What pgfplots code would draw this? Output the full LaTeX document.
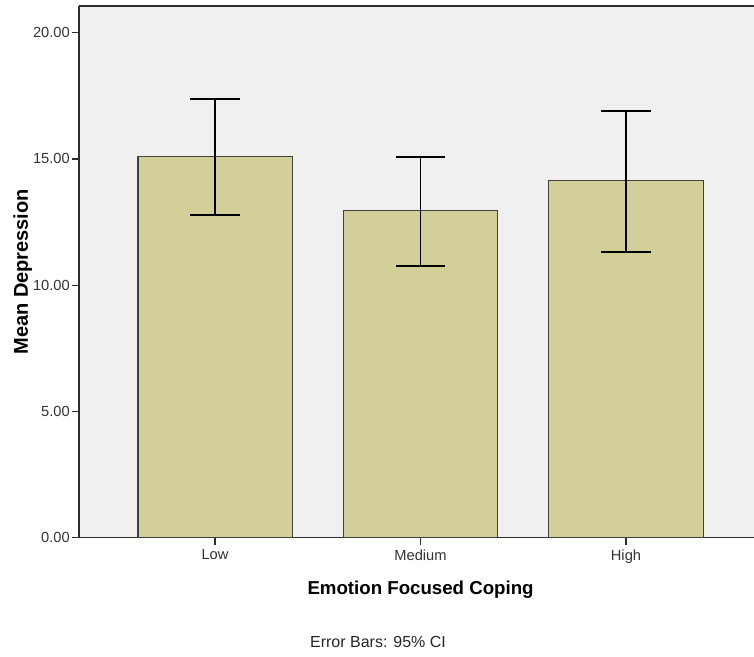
\documentclass[border=0pt]{standalone}
\usepackage{pgfplots}
\pgfplotsset{compat=1.18}
\usepackage{pgfplotstable}
\usepackage{fontspec}
\setmainfont{Liberation Sans}
\definecolor{barfill}{RGB}{211,207,153}
\definecolor{bgc}{RGB}{240,240,240}
\definecolor{framec}{RGB}{45,45,45}
\pgfplotstableread{
x y ep em
0 15.08 2.28 2.29
1 12.95 2.14 2.18
2 14.13 2.78 2.83
}\datatable
\begin{document}
\begin{tikzpicture}
\begin{axis}[
  at={(59.25pt,89.5pt)}, anchor=south west,
  scale only axis, width=506.25pt, height=398.8pt,
  xmin=-0.662, xmax=2.623, ymin=0, ymax=21.06,
  axis lines*=left,
  axis line style={framec, line width=1pt},
  axis background/.style={fill=bgc},
  xtick={0,1,2}, xticklabels={Low,Medium,High},
  ytick={0,5,10,15,20},
  /pgf/number format/assume math mode=true,
  tick align=outside, major tick length=5.25pt,
  tick style={framec, line width=1pt},
  ticklabel style={font=\fontsize{11}{13}\selectfont, text=black!80},
  yticklabel style={inner sep=1.5pt, /pgf/number format/.cd, fixed, fixed zerofill, precision=2},
  xlabel={Emotion Focused Coping},
  ylabel={Mean Depression},
  label style={font=\bfseries\fontsize{14}{16}\selectfont},
  x label style={at={(rel axis cs:0.506,0)}, anchor=base, yshift=-43pt},
  y label style={at={(rel axis cs:-0.0756,0.5)}, anchor=base, font=\bfseries\fontsize{15}{17}\selectfont},
  clip=false,
]
\addplot[ybar, bar width=0.75, fill=barfill, draw=black!75, line width=0.8pt,
  error bars/.cd, y dir=both, y explicit,
  error bar style={black, line width=1.1pt},
  error mark options={black, line width=1.3pt, mark size=18.4pt, rotate=90}]
  table[x=x, y=y, y error plus=ep, y error minus=em] {\datatable};
\draw[framec, line width=1pt] (rel axis cs:0,1) -- (rel axis cs:1,1);
\end{axis}
\node[anchor=base, font=\fontsize{12}{14}\selectfont, text=black!85] at (283.5pt,6.75pt) {Error Bars: 95\% CI};
\pgfresetboundingbox
\path[use as bounding box] (0,0) rectangle (565.5pt,492.75pt);
\end{tikzpicture}
\end{document}
